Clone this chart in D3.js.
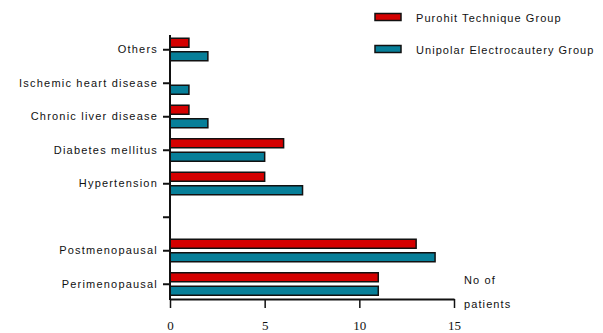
<!DOCTYPE html>
<html><head><meta charset="utf-8">
<script src="https://cdn.jsdelivr.net/npm/d3@7/dist/d3.min.js"></script>
<style>body{margin:0;background:#fff}svg{display:block}</style>
</head><body><svg id="c" width="603" height="333"></svg>
<script>
const categories = ["Others","Ischemic heart disease","Chronic liver disease","Diabetes mellitus","Hypertension"," ","Postmenopausal","Perimenopausal"];
const purohit = [1,0,1,6,5,0,13,11];
const unipolar = [2,1,2,5,7,0,14,11];
const groups = ["Purohit Technique Group","Unipolar Electrocautery Group"];
const colors = ["#d40000","#077f99"];
const xTicks = [0,5,10,15];

const svg = d3.select("#c");
const x = d3.scaleLinear().domain([0,15]).range([170,454]);
const y = d3.scaleBand().domain(categories).range([33,301]);
const inner = d3.scaleBand().domain(groups).range([-11.5,11]).paddingInner(0.333);

const series = [purohit, unipolar];
categories.forEach((c,i)=>{
  groups.forEach((g,j)=>{
    const v = series[j][i];
    svg.append("rect")
      .attr("x", x(0))
      .attr("y", y(c)+y.bandwidth()/2+inner(g))
      .attr("width", Math.max(x(v)-x(0), 0.01))
      .attr("height", inner.bandwidth())
      .attr("fill", colors[j])
      .attr("stroke","#111").attr("stroke-width",1.5);
  });
});

const sans = "'Liberation Sans', Arial, sans-serif";
// y axis
const yAxis = svg.append("g").attr("transform","translate(170,0)")
  .call(d3.axisLeft(y).tickSize(7).tickSizeOuter(0).tickPadding(5));
yAxis.select(".domain").remove();
yAxis.selectAll(".tick line").attr("stroke","#111").attr("stroke-width",2);
yAxis.selectAll("text").attr("font-family",sans)
  .attr("font-size",11).attr("letter-spacing","1.2px").attr("fill","#111");
svg.append("line").attr("x1",170).attr("x2",170).attr("y1",35).attr("y2",300)
  .attr("stroke","#111").attr("stroke-width",2);

// x axis
const xAxis = svg.append("g").attr("transform","translate(0,299)")
  .call(d3.axisBottom(x).tickValues(xTicks).tickSize(9).tickSizeOuter(0).tickPadding(13));
xAxis.select(".domain").attr("stroke","#111").attr("stroke-width",2);
xAxis.selectAll(".tick line").attr("stroke","#111").attr("stroke-width",1.5);
xAxis.selectAll("text").style("font-family","'Liberation Serif', 'Times New Roman', serif")
  .attr("font-size",13).attr("fill","#111");

svg.append("text").attr("x",464).attr("y",284).text("No of")
  .attr("font-family",sans).attr("font-size",11)
  .attr("letter-spacing","1.1px").attr("fill","#111");
svg.append("text").attr("x",464).attr("y",308).text("patients")
  .attr("font-family",sans).attr("font-size",11)
  .attr("letter-spacing","1.1px").attr("fill","#111");

// legend
groups.forEach((g,j)=>{
  const ly = 13.5 + j*32;
  svg.append("rect").attr("x",375).attr("y",ly).attr("width",26).attr("height",7)
    .attr("fill",colors[j]).attr("stroke","#111").attr("stroke-width",1.5);
  svg.append("text").attr("x",416).attr("y",ly+8).text(g)
    .attr("font-family",sans).attr("font-size",11)
    .attr("letter-spacing","1.05px").attr("fill","#111");
});
</script></body></html>
